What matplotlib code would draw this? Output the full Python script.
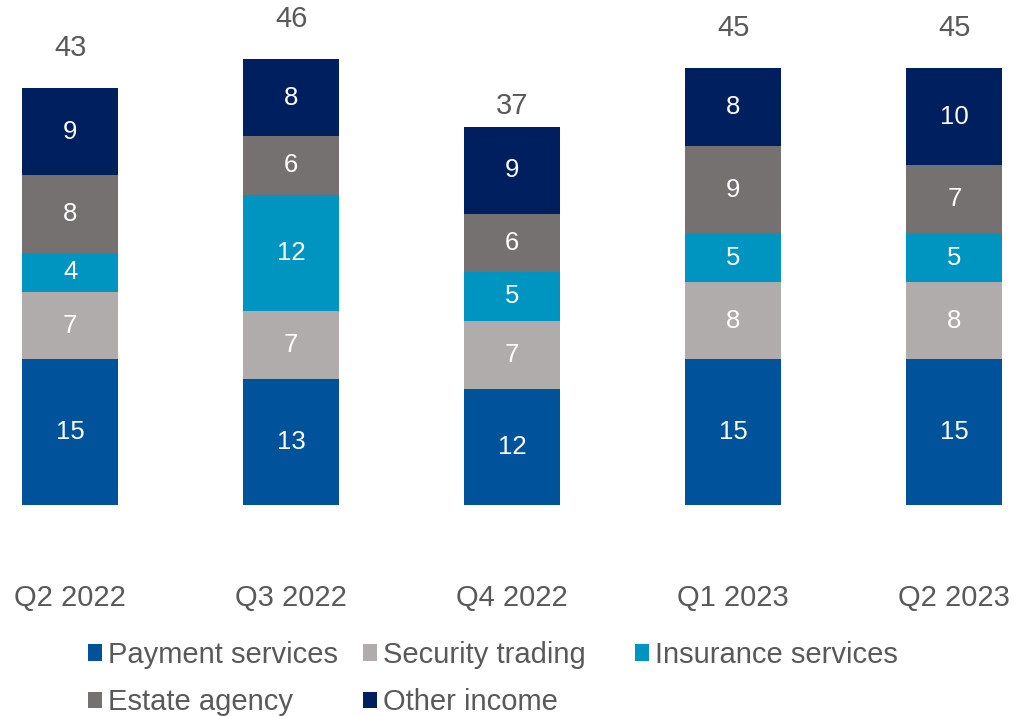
import matplotlib
matplotlib.use('Agg')

import matplotlib.pyplot as plt
import numpy as np

plt.rcParams['font.family'] = ['Liberation Sans', 'DejaVu Sans']

quarters = ['Q2 2022', 'Q3 2022', 'Q4 2022', 'Q1 2023', 'Q2 2023']
totals = [43, 46, 37, 45, 45]

series = ['Payment services', 'Security trading', 'Insurance services',
          'Estate agency', 'Other income']
payment = [15, 13, 12, 15, 15]
security = [7, 7, 7, 8, 8]
insurance = [4, 12, 5, 5, 5]
estate = [8, 6, 6, 9, 7]
other = [9, 8, 9, 8, 10]

colors = ['#00529B', '#AFACAB', '#0095C0', '#767171', '#001F5F']
text_grey = '#595959'

fig = plt.figure(figsize=(10.14, 7.16), dpi=100)
ax = fig.add_axes([0, 0.2947, 1, 0.7053])

x = np.arange(len(quarters))
width = 0.435
bottom = np.zeros(len(quarters))
handles = []
for name, vals, col in zip(series, [payment, security, insurance, estate, other], colors):
    vals = np.array(vals, dtype=float)
    bars = ax.bar(x, vals, width, bottom=bottom, color=col, label=name)
    handles.append(bars)
    for xi, b, v in zip(x, bottom, vals):
        ax.text(xi, b + v / 2, f'{v:.0f}', ha='center', va='center',
                color='white', fontsize=18.5)
    bottom += vals

for xi, t in zip(x, totals):
    ax.annotate(f'{t}', (xi, t), xytext=(0, 29), textcoords='offset points',
                ha='center', va='center', color=text_grey, fontsize=21)

ax.set_xlim(-0.317, 4.27)
ax.set_ylim(0, 52.06)
ax.axis('off')

# quarter labels under the bars
for xi, q in zip(x, quarters):
    ax.text(xi, -9.6, q, ha='center', va='center', color=text_grey, fontsize=21)

# legend laid out as fixed-width columns, one legend per column
columns = [([0, 3], 0.0868), ([1, 4], 0.358), ([2], 0.626)]
for idx, x0 in columns:
    leg = fig.legend([handles[i] for i in idx], [series[i] for i in idx],
                     loc='upper left', bbox_to_anchor=(x0, 0.105),
                     frameon=False, fontsize=21, handlelength=0.48, handleheight=0.48,
                     handletextpad=0.2, labelspacing=0.67,
                     borderaxespad=0, borderpad=0)
    for t in leg.get_texts():
        t.set_color(text_grey)

fig.savefig('out.png', dpi=100)
